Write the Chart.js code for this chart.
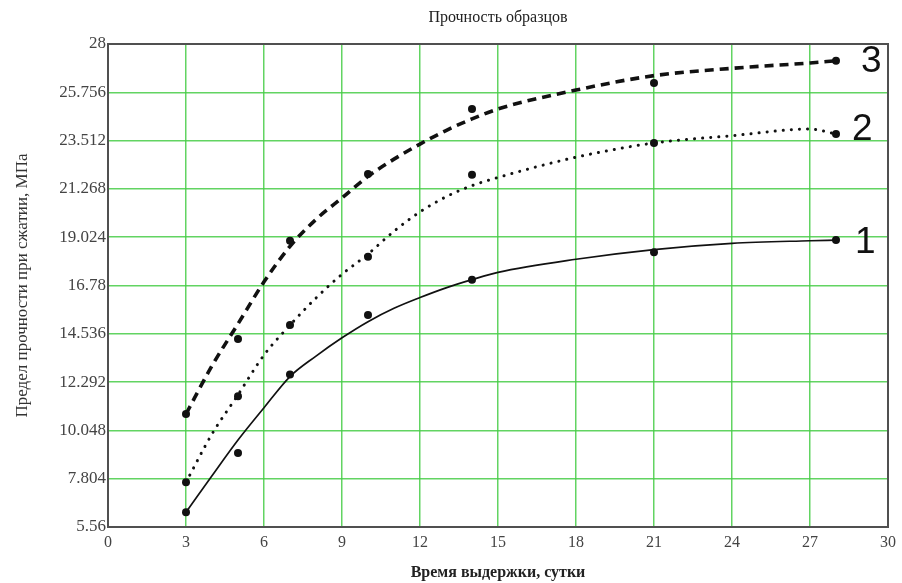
<!DOCTYPE html>
<html>
<head>
<meta charset="utf-8">
<title>Прочность образцов</title>
<script src="https://cdn.jsdelivr.net/npm/chart.js@4"></script>
<style>
  html, body { margin: 0; padding: 0; background: #fff; }
  #wrap { width: 902px; height: 583px; position: relative; }
</style>
</head>
<body>
<div id="wrap"><canvas id="chart" width="902" height="583"></canvas></div>
<script>
// Measured compressive strength (MPa) at each curing age (days)
const days = [3, 5, 7, 10, 14, 21, 28];
const strength1 = [6.25, 9.0, 12.64, 15.41, 17.05, 18.32, 18.89];
const strength2 = [7.64, 11.63, 14.94, 18.12, 21.93, 23.40, 23.82];
const strength3 = [10.81, 14.29, 18.86, 21.96, 24.98, 26.19, 27.22];

// Approximating curves through the measurements
const fitDays = [3, 4, 5, 6, 7, 8, 9, 10, 11, 12, 13, 14, 15, 18, 21, 24, 27, 28];
const fit1 = [6.25, 7.94, 9.6, 11.1, 12.55, 13.5, 14.35, 15.1, 15.72, 16.22, 16.67, 17.05, 17.39, 18.0, 18.45, 18.74, 18.86, 18.89];
const fit2 = [7.64, 9.88, 11.7, 13.55, 14.94, 16.2, 17.3, 18.24, 19.3, 20.2, 20.9, 21.42, 21.8, 22.74, 23.40, 23.74, 24.05, 23.82];
const fit3 = [10.81, 13.05, 15.0, 16.95, 18.6, 19.85, 20.85, 21.85, 22.65, 23.35, 23.98, 24.52, 24.98, 25.86, 26.53, 26.87, 27.12, 27.22];

const curveNames = ['1', '2', '3'];
const yTickValues = [5.56, 7.804, 10.048, 12.292, 14.536, 16.78, 19.024, 21.268, 23.512, 25.756, 28];
const xTickValues = [0, 3, 6, 9, 12, 15, 18, 21, 24, 27, 30];

const chartTitle = 'Прочность образцов';
const xTitle = 'Время выдержки, сутки';
const yTitle = 'Предел прочности при сжатии, МПа';

const toPoints = (xs, ys) => xs.map((x, i) => ({ x: x, y: ys[i] }));

const serif = '"Liberation Serif", "Times New Roman", serif';

function curve(values, style, name, labelOffset) {
  return Object.assign({
    data: toPoints(fitDays, values),
    showLine: true,
    borderColor: '#111',
    pointRadius: 0,
    pointHoverRadius: 0,
    cubicInterpolationMode: 'monotone',
    fill: false,
    endLabel: name,
    endLabelOffset: labelOffset,
    order: 2
  }, style);
}

function markers(values) {
  return {
    data: toPoints(days, values),
    showLine: false,
    pointRadius: 4,
    pointBackgroundColor: '#111',
    pointBorderColor: '#111',
    pointBorderWidth: 0,
    order: 1
  };
}

// Frame around the plotting area
const framePlugin = {
  id: 'frame',
  beforeDatasetsDraw(chart) {
    const a = chart.chartArea, ctx = chart.ctx;
    ctx.save();
    ctx.strokeStyle = '#505050';
    ctx.lineWidth = 2;
    ctx.strokeRect(a.left, a.top, a.right - a.left, a.bottom - a.top);
    ctx.restore();
  }
};

// Chart heading centred over the plotting area
const headingPlugin = {
  id: 'heading',
  afterDraw(chart) {
    const a = chart.chartArea, ctx = chart.ctx;
    ctx.save();
    ctx.font = '16px ' + serif;
    ctx.fillStyle = '#222';
    ctx.textAlign = 'center';
    ctx.textBaseline = 'middle';
    ctx.fillText(chartTitle, (a.left + a.right) / 2, 18);
    ctx.restore();
  }
};

// Curve numbers next to the last point of each curve
const endLabelPlugin = {
  id: 'endLabels',
  afterDatasetsDraw(chart) {
    const ctx = chart.ctx;
    const xs = chart.scales.x, ys = chart.scales.y;
    ctx.save();
    ctx.font = '37px "Liberation Sans", Arial, sans-serif';
    ctx.fillStyle = '#111';
    ctx.textAlign = 'left';
    ctx.textBaseline = 'middle';
    chart.data.datasets.forEach(ds => {
      if (!ds.endLabel) return;
      const last = ds.data[ds.data.length - 1];
      const off = ds.endLabelOffset;
      ctx.fillText(ds.endLabel, xs.getPixelForValue(last.x) + off[0], ys.getPixelForValue(last.y) + off[1]);
    });
    ctx.restore();
  }
};

const gridStyle = {
  color: 'rgba(70, 205, 70, 0.85)',
  lineWidth: 1.5,
  drawTicks: false
};

new Chart(document.getElementById('chart'), {
  type: 'scatter',
  data: {
    datasets: [
      curve(fit1, { borderWidth: 1.7 }, curveNames[0], [19, 3]),
      curve(fit2, { borderWidth: 3, borderDash: [0.1, 8], borderCapStyle: 'round' }, curveNames[1], [16, -4]),
      curve(fit3, { borderWidth: 3.6, borderDash: [9, 6] }, curveNames[2], [25, 1]),
      markers(strength1),
      markers(strength2),
      markers(strength3)
    ]
  },
  options: {
    responsive: false,
    animation: false,
    events: [],
    layout: { padding: { top: 44, right: 13, bottom: 0, left: 0 } },
    plugins: {
      legend: { display: false },
      title: { display: false },
      tooltip: { enabled: false }
    },
    scales: {
      x: {
        type: 'linear',
        min: 0,
        max: 30,
        afterBuildTicks(scale) { scale.ticks = xTickValues.map(v => ({ value: v })); },
        afterFit(scale) { scale.height = 56; },
        grid: gridStyle,
        border: { display: false },
        ticks: {
          padding: 6,
          color: '#444',
          font: { family: serif, size: 16 },
          callback: v => String(v)
        },
        title: {
          display: true,
          text: xTitle,
          color: '#222',
          font: { family: serif, size: 16, weight: 'bold' },
          padding: { top: 0, bottom: 1 }
        }
      },
      y: {
        type: 'linear',
        min: 5.56,
        max: 28,
        afterBuildTicks(scale) { scale.ticks = yTickValues.map(v => ({ value: v })); },
        afterFit(scale) { scale.width = 108; },
        grid: gridStyle,
        border: { display: false },
        ticks: {
          padding: 2,
          color: '#444',
          font: { family: serif, size: 17 },
          callback: v => String(v)
        },
        title: {
          display: true,
          text: yTitle,
          color: '#333',
          font: { family: serif, size: 17 },
          padding: { top: 12, bottom: 0 }
        }
      }
    }
  },
  plugins: [framePlugin, headingPlugin, endLabelPlugin]
});
</script>
</body>
</html>
